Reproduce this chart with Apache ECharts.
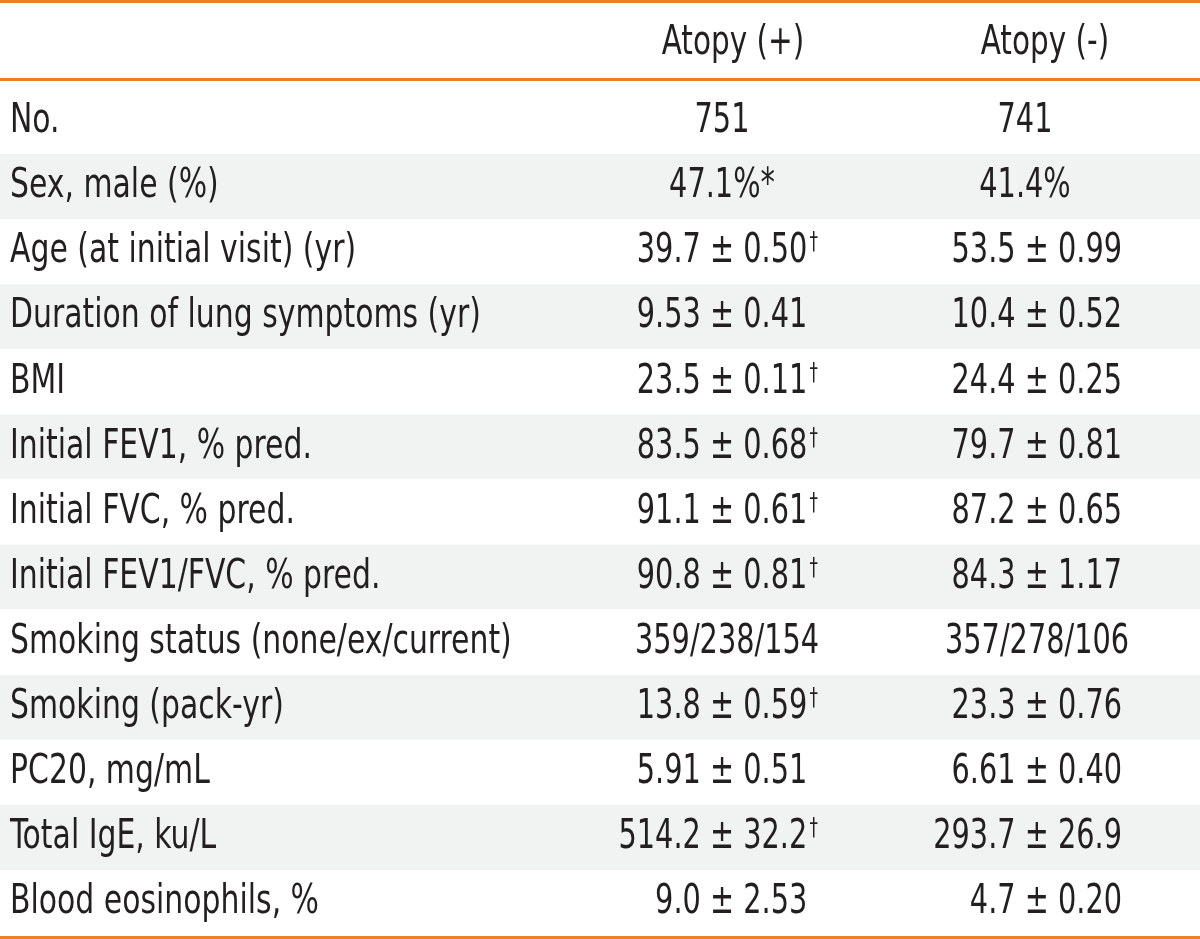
<!DOCTYPE html>
<html><head><meta charset="utf-8">
<script src="https://cdn.jsdelivr.net/npm/echarts@6/dist/echarts.min.js"></script>
<style>html,body{margin:0;padding:0;background:#fff}#c{width:1200px;height:939px}</style>
</head><body><div id="c"></div>
<script>
const headers = ['Atopy (+)', 'Atopy (-)'];
const rowLabels = ['No.', 'Sex, male (%)', 'Age (at initial visit) (yr)', 'Duration of lung symptoms (yr)', 'BMI',
  'Initial FEV1, % pred.', 'Initial FVC, % pred.', 'Initial FEV1/FVC, % pred.', 'Smoking status (none/ex/current)',
  'Smoking (pack-yr)', 'PC20, mg/mL', 'Total IgE, ku/L', 'Blood eosinophils, %'];
const atopyPos = ['751', '47.1%*', '39.7 ± 0.50', '9.53 ± 0.41', '23.5 ± 0.11', '83.5 ± 0.68', '91.1 ± 0.61',
  '90.8 ± 0.81', '359/238/154', '13.8 ± 0.59', '5.91 ± 0.51', '514.2 ± 32.2', '9.0 ± 2.53'];
const atopyPosMark = ['', '', '†', '', '†', '†', '†', '†', '', '†', '', '†', ''];
const atopyNeg = ['741', '41.4%', '53.5 ± 0.99', '10.4 ± 0.52', '24.4 ± 0.25', '79.7 ± 0.81', '87.2 ± 0.65',
  '84.3 ± 1.17', '357/278/106', '23.3 ± 0.76', '6.61 ± 0.40', '293.7 ± 26.9', '4.7 ± 0.20'];
const atopyNegMark = ['', '', '', '', '', '', '', '', '', '', '', '', ''];

const FONT = '"DejaVu Sans Condensed", "Liberation Sans Narrow", sans-serif';
const INK = '#231f20';
const ORANGE = '#ec8024';
const BAND = '#f1f3f3';
const FS = 41;
const SX_LABEL = 0.81, SX_VALUE = 0.78, SX_HEAD = 0.80;
// layout anchors (x axis units = px)
const LABEL_X = 10;
const COLS = [{left: 635, center: 722, right: 818}, {left: 945, center: 1025, right: 1122}];
const HEAD_X = [733, 1045];
const cols = [{vals: atopyPos, marks: atopyPosMark}, {vals: atopyNeg, marks: atopyNegMark}];

const richStyles = {
  v: {fontSize: FS, fontFamily: FONT, fill: INK},
  d: {fontSize: 24, fontFamily: FONT, fill: INK, verticalAlign: 'top', padding: [0, 0, 12, 3]},
  h: {fontSize: 24, fontFamily: FONT, fill: 'rgba(0,0,0,0)', verticalAlign: 'top', padding: [0, 0, 12, 3]}
};

function renderRow(params, api) {
  const i = params.dataIndex;
  const cat = api.value(1);
  const children = [];
  const pL = api.coord([LABEL_X, cat]);
  children.push({
    type: 'text', x: pL[0], y: pL[1], scaleX: SX_LABEL,
    style: {text: rowLabels[i], x: 0, y: 0, align: 'left', verticalAlign: 'middle', fontSize: FS, fontFamily: FONT, fill: INK}
  });
  cols.forEach((c, k) => {
    const v = c.vals[i];
    const hasMarks = c.marks.some(Boolean);
    let mode = 'center';
    if (v.indexOf('±') >= 0) mode = 'right';
    else if (v.indexOf('/') >= 0) mode = 'left';
    const p = api.coord([COLS[k][mode], cat]);
    let txt = '{v|' + v + '}';
    if (mode === 'right' && hasMarks) txt += c.marks[i] ? '{d|' + c.marks[i] + '}' : '{h|†}';
    children.push({
      type: 'text', x: p[0], y: p[1], scaleX: SX_VALUE,
      style: {text: txt, rich: richStyles, x: 0, y: 0, align: mode,
        verticalAlign: 'middle', fontSize: FS, fontFamily: FONT, fill: INK}
    });
  });
  return {type: 'group', children: children};
}

const chart = echarts.init(document.getElementById('c'), null, {renderer: 'canvas'});
chart.setOption({
  animation: false,
  backgroundColor: '#fff',
  grid: {left: 0, right: 0, top: 89, bottom: 4},
  xAxis: {type: 'value', min: 0, max: 1200, show: false},
  yAxis: {
    type: 'category', data: rowLabels, inverse: true,
    axisLine: {show: false}, axisTick: {show: false}, axisLabel: {show: false},
    splitLine: {show: false},
    splitArea: {show: true, areaStyle: {color: ['#ffffff', BAND]}}
  },
  series: [{
    type: 'custom', silent: true, clip: false,
    data: rowLabels.map(r => [0, r]),
    encode: {x: 0, y: 1},
    renderItem: renderRow
  }],
  graphic: [
    {type: 'rect', shape: {x: 0, y: 0, width: 1200, height: 3}, style: {fill: ORANGE}, silent: true},
    {type: 'rect', shape: {x: 0, y: 78, width: 1200, height: 3}, style: {fill: ORANGE}, silent: true},
    {type: 'rect', shape: {x: 0, y: 936, width: 1200, height: 3}, style: {fill: ORANGE}, silent: true}
  ].concat(headers.map((h, i) => ({
    type: 'text', x: HEAD_X[i], y: 43, scaleX: SX_HEAD, silent: true,
    style: {text: h, x: 0, y: 0, fontSize: FS, fontFamily: FONT, fill: INK, align: 'center', verticalAlign: 'middle'}
  })))
});
</script></body></html>
